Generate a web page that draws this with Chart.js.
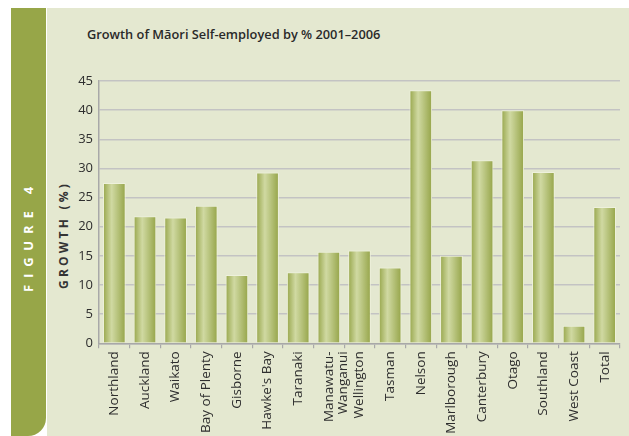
<!DOCTYPE html>
<html>
<head>
<meta charset="utf-8">
<script src="https://cdn.jsdelivr.net/npm/chart.js@4.4.1/dist/chart.umd.min.js"></script>
<style>
  html, body { margin: 0; padding: 0; background: #ffffff; }
  body { width: 629px; height: 436px; position: relative; overflow: hidden; font-family: "Open Sans", sans-serif; }
  .band { position: absolute; left: 11px; top: 8px; width: 35px; height: 428px; background: #97a648; border-bottom-right-radius: 18px; }
  .panel { position: absolute; left: 47px; top: 8px; width: 582px; height: 428px; background: #e4e8d0; }
  .figure { position: absolute; left: 28px; top: 236px; transform: translate(-50%, -50%) rotate(-90deg); color: #ffffff; font-weight: 700; font-size: 13px; letter-spacing: 6.8px; white-space: nowrap; }
  .ytitle { position: absolute; left: 63px; top: 235px; transform: translate(-50%, -50%) rotate(-90deg); color: #333333; font-weight: 700; font-size: 12px; letter-spacing: 3.2px; white-space: nowrap; }
  .title { position: absolute; left: 87px; top: 25px; color: #2a2a2a; font-weight: 600; font-size: 12.8px; white-space: nowrap; }
  #chartWrap { position: absolute; left: 47px; top: 8px; width: 582px; height: 428px; }
</style>
</head>
<body>
<div class="band"></div>
<div class="panel"></div>
<div class="figure">FIGURE 4</div>
<div class="ytitle">GROWTH (%)</div>
<div class="title">Growth of Māori Self-employed by % 2001–2006</div>
<div id="chartWrap"><canvas id="growthChart" width="582" height="428"></canvas></div>
<script>
// regions along the x axis
const regions = ['Northland', 'Auckland', 'Waikato', 'Bay of Plenty', 'Gisborne', "Hawke's Bay",
  'Taranaki', ['Manawatu-', 'Wanganui'], 'Wellington', 'Tasman', 'Nelson', 'Marlborough',
  'Canterbury', 'Otago', 'Southland', 'West Coast', 'Total'];

// growth in self-employment, percent
const growth = [27.5, 21.8, 21.6, 23.6, 11.7, 29.3, 12.2, 15.7, 15.9, 13.0, 43.4, 15.0,
  31.4, 40.0, 29.4, 3.0, 23.4];

const yTicks = [0, 5, 10, 15, 20, 25, 30, 35, 40, 45];

const BAR_PCT = 0.74;

// cylinder-style shading across each bar
function barFill(ctx) {
  const chart = ctx.chart;
  const xs = chart.scales.x;
  if (!xs || ctx.type !== 'data') return '#b3c06e';
  const cx = xs.getPixelForValue(ctx.dataIndex);
  const w = (xs.width / regions.length) * BAR_PCT;
  if (!isFinite(cx) || !isFinite(w) || w <= 0) return '#b3c06e';
  const g = chart.ctx.createLinearGradient(cx - w / 2, 0, cx + w / 2, 0);
  g.addColorStop(0, '#97a64b');
  g.addColorStop(0.38, '#d0d9a2');
  g.addColorStop(0.55, '#c0cb8a');
  g.addColorStop(1, '#95a448');
  return g;
}

new Chart(document.getElementById('growthChart'), {
  type: 'bar',
  data: {
    labels: regions,
    datasets: [{
      data: growth,
      backgroundColor: barFill,
      borderColor: '#eef1dc',
      borderWidth: 1,
      barPercentage: BAR_PCT,
      categoryPercentage: 1
    }]
  },
  options: {
    responsive: false,
    animation: false,
    layout: { padding: { left: 0, right: 9, top: 73, bottom: 0 } },
    plugins: { legend: { display: false }, tooltip: { enabled: false } },
    scales: {
      x: {
        offset: true,
        grid: { display: true, drawOnChartArea: false, offset: true, color: '#a8a8a8', lineWidth: 1.2, tickLength: 5 },
        border: { color: '#a8a8a8', width: 1.5 },
        ticks: {
          color: '#2e2e2e', minRotation: 90, maxRotation: 90, autoSkip: false, padding: 3,
          font: { family: 'Open Sans', size: 13.5, lineHeight: 1.05 }
        },
        afterFit: s => { s.height = 92.7; }
      },
      y: {
        min: 0, max: 45,
        afterBuildTicks: s => { s.ticks = yTicks.map(v => ({ value: v })); },
        grid: { color: '#c3c3c3', lineWidth: 1.5, drawTicks: false },
        border: { color: '#a8a8a8', width: 1.5 },
        ticks: { color: '#2e2e2e', padding: 6, font: { family: 'Open Sans', size: 13 } },
        afterFit: s => { s.width = 52; }
      }
    }
  }
});
</script>
</body>
</html>
